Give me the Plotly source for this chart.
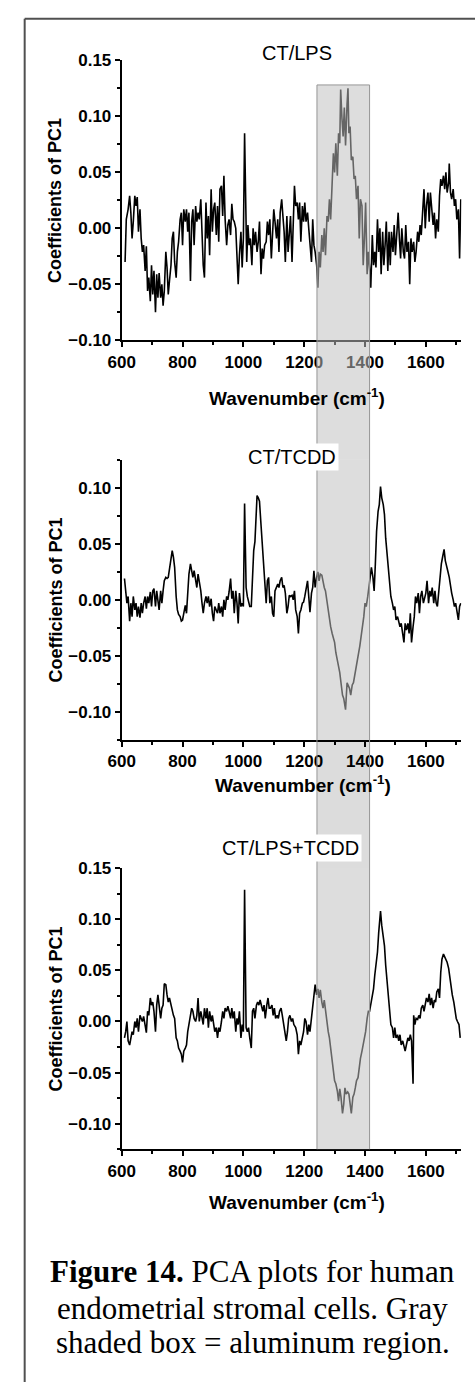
import plotly.graph_objects as go

# ---------------- data ----------------
wn_lps = [611,615,621,626,630,634,638,643,647,651,655,660,664,668,672,677,681,685,689,694,698,702,706,711,715,719,723,728,732,736,740,745,749,753,757,762,766,770,774,779,783,787,792,796,800,804,809,813,817,821,826,830,834,838,843,847,851,855,860,864,868,872,877,881,885,889,894,898,902,906,911,915,919,923,928,932,936,940,945,949,953,958,962,966,970,975,979,983,987,992,996,1000,1004,1008,1011,1015,1019,1023,1028,1032,1036,1040,1045,1049,1053,1058,1062,1066,1070,1075,1079,1083,1087,1092,1096,1100,1104,1109,1113,1117,1121,1126,1130,1134,1138,1143,1147,1151,1155,1160,1164,1168,1172,1177,1181,1185,1189,1194,1198,1202,1206,1211,1215,1219,1224,1228,1232,1236,1241,1245,1249,1253,1258,1262,1266,1270,1275,1279,1283,1287,1292,1296,1300,1304,1309,1313,1317,1320,1324,1328,1332,1336,1341,1344,1347,1351,1355,1360,1364,1368,1372,1377,1381,1385,1390,1394,1398,1402,1407,1411,1415,1419,1424,1428,1432,1436,1441,1445,1449,1453,1458,1462,1466,1470,1475,1479,1483,1487,1492,1496,1500,1504,1509,1513,1517,1521,1526,1530,1534,1538,1543,1547,1551,1555,1560,1564,1568,1573,1577,1581,1585,1590,1594,1598,1602,1607,1611,1615,1619,1624,1628,1632,1636,1641,1645,1649,1653,1658,1662,1666,1670,1675,1677,1681,1685,1690,1694,1698,1702,1707,1711,1715]
pc1_lps = [-0.030,0.008,0.017,0.029,0.014,-0.009,0.006,0.029,0.020,0.028,-0.003,0.017,-0.009,-0.021,-0.015,-0.038,-0.016,-0.056,-0.044,-0.065,-0.033,-0.059,-0.038,-0.075,-0.041,-0.062,-0.040,-0.062,-0.050,-0.069,-0.056,-0.021,-0.035,-0.059,-0.047,-0.033,-0.009,-0.003,-0.030,-0.044,-0.021,-0.012,0.008,0.014,-0.015,0.017,0.006,0.017,-0.003,0.014,-0.047,0.006,0.017,-0.015,0.020,0.006,0.014,0.008,0.026,-0.015,-0.033,-0.044,0.023,-0.009,0.011,-0.024,0.035,-0.003,0.017,0.023,-0.006,0.020,-0.012,0.035,0.038,0.011,0.047,0.008,-0.015,0.003,0.008,-0.006,0.022,0.008,0.006,0.000,-0.021,-0.050,-0.024,-0.003,-0.035,-0.009,0.085,0.003,-0.030,0.003,-0.015,-0.009,-0.033,0.000,-0.015,-0.003,-0.021,-0.012,0.006,-0.041,-0.018,-0.027,-0.015,-0.012,0.006,-0.006,0.008,-0.027,0.003,0.017,0.006,-0.009,0.008,-0.021,0.014,0.026,0.011,-0.003,-0.030,0.011,-0.021,0.000,0.011,-0.030,0.017,0.038,0.020,0.023,0.008,0.023,-0.012,0.020,0.006,0.023,0.006,0.014,0.000,-0.015,-0.030,0.008,-0.015,-0.021,-0.033,-0.053,-0.021,-0.035,-0.006,-0.021,0.000,-0.024,0.011,0.006,0.026,0.008,0.038,0.067,0.050,0.076,0.047,0.085,0.076,0.124,0.099,0.082,0.108,0.074,0.111,0.125,0.085,0.091,0.061,0.064,0.044,0.047,0.026,0.038,-0.009,0.026,0.020,-0.033,-0.009,0.023,-0.041,-0.021,-0.035,-0.053,-0.006,-0.033,-0.021,-0.035,0.008,-0.021,0.000,-0.041,-0.003,-0.033,-0.015,0.006,-0.038,-0.003,-0.033,-0.003,-0.021,0.003,-0.024,-0.006,0.014,-0.009,-0.027,0.000,-0.021,-0.027,0.003,-0.021,-0.012,-0.050,-0.009,-0.021,-0.012,-0.030,-0.021,-0.003,-0.012,0.003,-0.006,0.017,0.035,0.000,0.020,0.032,0.006,0.032,0.017,0.003,0.014,-0.009,0.008,-0.003,0.029,0.044,0.038,0.047,0.035,0.050,0.032,0.041,0.058,0.032,0.026,0.035,0.020,0.026,0.008,0.017,-0.027,0.026]

wn_tcdd = [609,613,617,621,626,630,634,638,643,647,651,655,660,664,668,672,677,681,685,689,694,698,702,706,711,715,719,723,728,732,736,740,745,749,753,757,762,766,770,774,779,783,787,792,796,800,804,809,813,817,821,826,830,834,838,843,847,851,855,860,864,868,872,877,881,885,889,894,898,902,906,911,915,919,923,928,932,936,940,945,949,953,958,962,966,970,975,979,983,987,992,996,1000,1004,1009,1013,1017,1021,1026,1030,1034,1038,1042,1045,1049,1053,1058,1062,1066,1070,1075,1079,1083,1087,1092,1096,1100,1104,1109,1113,1117,1121,1126,1130,1134,1138,1143,1147,1151,1155,1160,1164,1168,1172,1177,1181,1185,1189,1194,1198,1202,1206,1211,1215,1219,1224,1228,1232,1236,1241,1245,1249,1253,1258,1262,1266,1270,1275,1279,1283,1287,1292,1296,1300,1304,1309,1313,1317,1321,1326,1330,1334,1336,1341,1345,1349,1353,1358,1362,1366,1370,1375,1379,1383,1387,1392,1396,1400,1404,1409,1413,1417,1421,1426,1430,1434,1438,1443,1447,1451,1455,1460,1464,1468,1472,1477,1481,1485,1490,1494,1498,1502,1507,1511,1515,1519,1524,1528,1532,1536,1541,1545,1549,1553,1558,1562,1566,1570,1575,1579,1583,1587,1592,1596,1600,1604,1609,1613,1617,1621,1626,1630,1634,1638,1643,1647,1651,1655,1660,1664,1668,1672,1677,1681,1685,1690,1694,1698,1702,1707,1711,1715]
pc1_tcdd = [0.019,0.008,-0.003,0.003,-0.019,-0.003,-0.015,0.003,-0.009,-0.003,-0.015,-0.006,-0.016,-0.003,-0.012,-0.003,0.003,-0.008,0.003,-0.003,0.007,-0.006,0.008,0.010,-0.006,0.008,0.000,-0.009,0.008,-0.003,0.008,0.017,0.020,0.019,0.020,0.029,0.035,0.044,0.038,0.029,0.003,-0.009,-0.013,-0.015,-0.019,-0.018,-0.012,-0.005,-0.012,0.008,0.023,0.032,0.026,0.020,0.026,0.017,0.011,0.023,0.017,0.008,-0.003,-0.012,-0.003,0.003,-0.003,0.003,-0.006,0.001,-0.012,-0.019,-0.006,-0.009,-0.012,-0.003,-0.012,-0.006,-0.015,0.000,-0.009,0.003,0.000,0.007,0.019,0.001,0.008,-0.012,0.008,-0.003,-0.021,0.006,-0.006,-0.003,-0.006,0.086,0.011,0.003,-0.003,-0.006,-0.006,0.020,0.044,0.052,0.085,0.093,0.091,0.088,0.067,0.050,0.029,0.017,-0.003,0.017,0.020,-0.003,0.003,-0.012,-0.015,0.008,0.011,0.014,0.011,0.017,0.020,0.011,0.013,0.006,-0.012,-0.006,0.004,0.003,0.004,0.000,0.008,-0.009,-0.015,-0.030,-0.012,-0.009,-0.003,-0.002,0.003,0.008,0.017,0.003,-0.011,0.006,0.011,0.026,0.011,0.020,0.025,0.017,0.023,0.022,0.014,0.011,0.008,-0.003,-0.009,-0.018,-0.024,-0.030,-0.035,-0.038,-0.047,-0.053,-0.059,-0.065,-0.074,-0.085,-0.088,-0.094,-0.098,-0.074,-0.076,-0.079,-0.085,-0.076,-0.074,-0.068,-0.062,-0.056,-0.050,-0.041,-0.033,-0.024,-0.015,-0.003,-0.006,0.003,0.011,0.017,0.029,0.020,0.008,0.032,0.061,0.079,0.085,0.101,0.091,0.085,0.076,0.055,0.041,0.026,0.014,0.003,-0.003,-0.009,-0.006,-0.018,-0.015,-0.021,-0.024,-0.021,-0.030,-0.038,-0.021,-0.027,-0.021,-0.030,-0.012,-0.038,-0.024,-0.015,0.003,-0.003,0.006,-0.012,0.003,0.008,-0.003,0.003,0.006,0.017,-0.003,0.008,0.003,0.011,-0.003,0.008,-0.003,-0.006,0.008,0.026,0.032,0.038,0.045,0.035,0.029,0.026,0.020,0.011,0.006,0.000,-0.006,-0.003,-0.009,-0.018,-0.006,-0.003]

wn_both = [609,613,617,621,626,630,634,638,643,647,651,655,660,664,668,672,677,681,685,689,694,698,702,706,711,715,719,723,728,732,736,740,745,749,753,757,762,766,770,774,779,783,787,792,796,800,804,809,813,817,821,826,830,834,838,843,847,851,855,860,864,868,872,877,881,885,889,894,898,902,906,911,915,919,923,928,932,936,940,945,949,953,958,962,966,970,975,979,983,987,992,996,1000,1004,1009,1013,1017,1021,1026,1030,1034,1038,1043,1047,1051,1055,1060,1064,1068,1072,1077,1081,1085,1089,1094,1098,1102,1106,1111,1115,1119,1124,1128,1132,1136,1141,1145,1149,1153,1158,1162,1166,1172,1177,1181,1185,1189,1194,1198,1202,1206,1211,1215,1219,1224,1228,1232,1236,1241,1245,1249,1253,1258,1262,1266,1270,1275,1279,1283,1287,1292,1296,1300,1304,1309,1313,1317,1321,1326,1330,1334,1338,1343,1347,1351,1355,1360,1364,1368,1372,1377,1381,1385,1390,1394,1398,1402,1407,1411,1415,1419,1424,1428,1432,1436,1441,1445,1449,1451,1455,1460,1464,1468,1472,1477,1481,1485,1490,1494,1498,1502,1507,1511,1515,1519,1524,1528,1532,1536,1541,1545,1549,1553,1558,1560,1564,1568,1573,1577,1581,1585,1590,1594,1598,1602,1607,1611,1615,1619,1624,1628,1632,1636,1641,1645,1649,1653,1658,1662,1666,1670,1675,1679,1683,1687,1692,1696,1700,1704,1709,1713]
pc1_both = [-0.016,-0.010,0.000,-0.019,-0.023,-0.016,-0.010,-0.013,0.000,-0.006,0.003,-0.010,0.006,0.003,0.000,0.005,-0.003,-0.011,0.010,0.006,0.023,0.016,0.019,0.010,-0.010,0.016,0.026,0.013,0.003,0.013,0.016,0.037,0.036,0.026,0.019,0.023,0.016,0.013,0.006,0.003,-0.016,-0.019,-0.026,-0.029,-0.032,-0.040,-0.029,-0.026,-0.023,-0.010,-0.003,0.006,0.013,0.010,0.003,0.000,0.006,0.023,0.000,0.010,0.003,-0.003,0.013,0.003,0.013,-0.006,0.010,0.000,0.006,-0.003,-0.010,-0.006,-0.016,-0.006,-0.010,0.000,0.010,0.003,0.013,0.010,0.015,0.010,0.003,0.013,0.003,0.010,-0.010,0.003,-0.003,0.010,-0.016,-0.003,-0.010,0.129,-0.006,-0.010,-0.006,-0.016,-0.026,0.010,0.013,0.003,0.016,0.019,0.016,0.021,0.013,0.010,0.016,0.003,0.016,0.023,0.013,0.013,0.016,0.006,0.013,0.003,0.006,0.003,0.010,0.013,0.006,-0.003,-0.010,-0.019,-0.010,0.003,0.006,0.000,0.003,-0.003,-0.006,-0.013,-0.032,-0.019,-0.023,-0.016,-0.010,0.003,0.000,-0.013,-0.003,-0.010,0.003,0.016,0.023,0.036,0.026,0.032,0.023,0.031,0.019,0.013,0.021,0.010,-0.003,-0.010,-0.016,-0.026,-0.036,-0.048,-0.058,-0.061,-0.068,-0.078,-0.066,-0.074,-0.090,-0.081,-0.065,-0.071,-0.069,-0.071,-0.081,-0.090,-0.074,-0.071,-0.065,-0.058,-0.055,-0.045,-0.036,-0.029,-0.023,-0.016,-0.010,0.003,0.010,0.010,0.016,0.026,0.032,0.045,0.055,0.068,0.087,0.107,0.108,0.094,0.081,0.074,0.055,0.039,0.023,0.010,-0.003,-0.006,-0.016,-0.006,-0.016,-0.013,-0.019,-0.013,-0.023,-0.019,-0.026,-0.029,-0.023,-0.016,-0.019,-0.013,-0.019,-0.061,0.006,-0.003,0.003,0.002,0.006,0.003,0.013,0.016,0.010,0.019,0.023,0.019,0.027,0.016,0.023,0.013,0.021,0.019,0.029,0.032,0.023,0.048,0.061,0.066,0.063,0.061,0.058,0.052,0.042,0.036,0.026,0.019,0.010,0.003,0.000,-0.003,-0.016]

panel_titles = ["CT/LPS", "CT/TCDD", "CT/LPS+TCDD"]
y_ranges = [[-0.1001, 0.1501], [-0.125, 0.125], [-0.125, 0.1501]]
x_range = [600, 1717]
aluminum_region = [1242, 1415]   # wavenumber span of the gray box
x_title = "Wavenumber (cm<sup>-1</sup>)"
y_title = "Coefficients of PC1"
caption_lines = ["<b>Figure 14.</b> PCA plots for human",
                 "endometrial stromal cells. Gray",
                 "shaded box = aluminum region."]

# ---------------- layout helpers (pixel -> paper) ----------------
W, H = 475, 1392
def px(x): return x / W
def py(y): return 1 - y / H

SANS = "Liberation Sans, Arial, sans-serif"
SERIF = "Liberation Serif, Times New Roman, serif"

series = [(wn_lps, pc1_lps), (wn_tcdd, pc1_tcdd), (wn_both, pc1_both)]
plot_tops = [52, 457, 871]
plot_bottoms = [336, 741, 1156]
title_pos = [(292, 45), (286, 454), (285, 851)]
xtitle_pos = [(292, 393), (298, 786), (292, 1208)]

fig = go.Figure()
annotations = []
for i, (wn, pc) in enumerate(series):
    sfx = "" if i == 0 else str(i + 1)
    fig.add_trace(go.Scatter(x=wn, y=pc, mode="lines",
                             line=dict(color="black", width=1.6),
                             xaxis="x" + sfx, yaxis="y" + sfx, showlegend=False))
    axcommon = dict(showline=True, linecolor="black", linewidth=2, showgrid=False,
                    zeroline=False, ticks="outside", ticklen=5, tickwidth=1.5,
                    tickcolor="black",
                    tickfont=dict(family=SANS, size=17, color="black", weight="bold"))
    fig.update_layout(**{
        "xaxis" + sfx: dict(axcommon, domain=[px(111), px(461)], range=x_range,
                            tick0=600, dtick=200, anchor="y" + sfx,
                            minor=dict(ticks="outside", ticklen=3, tickwidth=1.5,
                                       tickcolor="black", dtick=100, tick0=600)),
        "yaxis" + sfx: dict(axcommon, domain=[py(plot_bottoms[i]), py(plot_tops[i])],
                            range=y_ranges[i], dtick=0.05, tick0=0, tickformat=".2f",
                            anchor="x" + sfx,
                            minor=dict(ticks="outside", ticklen=3, tickwidth=1.5,
                                       tickcolor="black", dtick=0.025, tick0=0)),
    })
    tx, ty = title_pos[i]
    annotations.append(dict(text=panel_titles[i], x=px(tx), y=py(ty), xref="paper", yref="paper",
                            showarrow=False, xanchor="center", yanchor="middle",
                            bgcolor="white", borderpad=2,
                            font=dict(family=SANS, size=20, color="black")))
    xx, xy = xtitle_pos[i]
    annotations.append(dict(text=x_title, x=px(xx), y=py(xy), xref="paper", yref="paper",
                            showarrow=False, xanchor="center", yanchor="middle",
                            font=dict(family=SANS, size=19, color="black", weight="bold")))
    annotations.append(dict(text=y_title, x=px(43), y=py((plot_tops[i] + plot_bottoms[i]) / 2),
                            xref="paper", yref="paper", textangle=-90,
                            showarrow=False, xanchor="center", yanchor="middle",
                            font=dict(family=SANS, size=18, color="black", weight="bold")))

for k, (line, cy) in enumerate(zip(caption_lines, [1280, 1317, 1352])):
    annotations.append(dict(text=line, x=px(246), y=py(cy), xref="paper", yref="paper",
                            showarrow=False, xanchor="center", yanchor="middle",
                            font=dict(family=SERIF, size=31, color="black")))

# ---------------- gray aluminum box ----------------
x0, x1 = aluminum_region
shapes = []
overlay = dict(type="rect", xref="x", yref="paper", x0=x0, x1=x1,
               fillcolor="rgb(190,190,190)", opacity=0.53, line=dict(width=0), layer="above")
for (ya, yb) in [(77, 457), (457, 741), (871, 1156)]:
    shapes.append(dict(overlay, y0=py(yb), y1=py(ya)))
shapes.append(dict(type="rect", xref="x", yref="paper", x0=x0, x1=x1, y0=py(871), y1=py(741),
                   fillcolor="rgb(220,220,220)", line=dict(width=0), layer="below"))
edge = dict(color="rgb(150,150,150)", width=1)
for xv in (x0, x1):
    shapes.append(dict(type="line", xref="x", yref="paper", x0=xv, x1=xv,
                       y0=py(1156), y1=py(77), line=edge, layer="above"))
shapes.append(dict(type="line", xref="x", yref="paper", x0=x0, x1=x1,
                   y0=py(77), y1=py(77), line=edge, layer="above"))

# ---------------- page border ----------------
border = dict(color="rgb(80,80,80)", width=2)
shapes.append(dict(type="line", xref="paper", yref="paper", x0=px(11), x1=px(11),
                   y0=0, y1=py(10), line=border))
shapes.append(dict(type="line", xref="paper", yref="paper", x0=px(11), x1=1,
                   y0=py(10), y1=py(10), line=border))

fig.update_layout(width=W, height=H, margin=dict(l=0, r=0, t=0, b=0),
                  paper_bgcolor="white", plot_bgcolor="rgba(0,0,0,0)",
                  annotations=annotations, shapes=shapes, showlegend=False)

fig.write_html("out.html")
